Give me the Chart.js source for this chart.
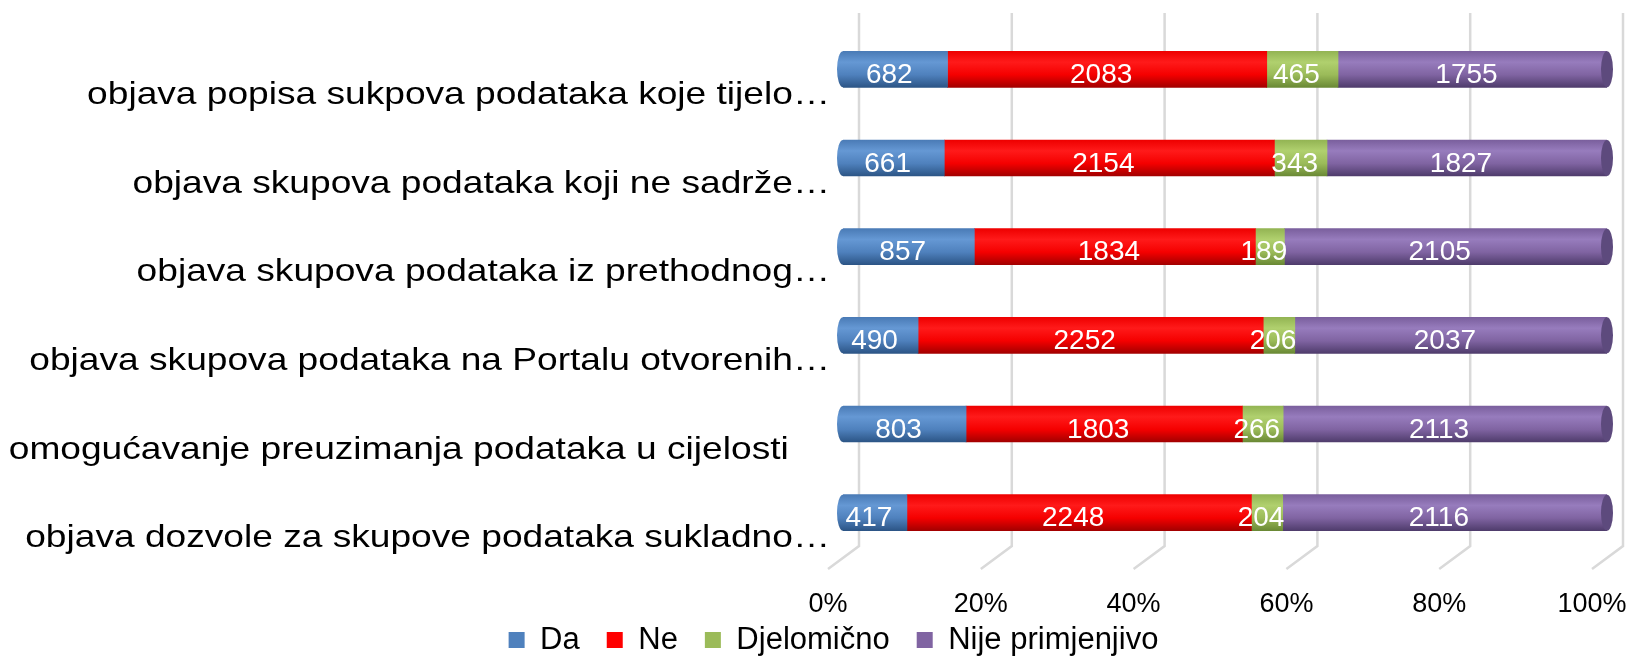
<!DOCTYPE html>
<html>
<head>
<meta charset="utf-8">
<script src="https://cdn.jsdelivr.net/npm/chart.js@4.4.1/dist/chart.umd.min.js"></script>
<style>
  html, body { margin: 0; padding: 0; background: #fff; }
</style>
</head>
<body>
<canvas id="barChart" width="1632" height="657"></canvas>
<script>
const categories = [
  'objava popisa sukpova podataka koje tijelo…',
  'objava skupova podataka koji ne sadrže…',
  'objava skupova podataka iz prethodnog…',
  'objava skupova podataka na Portalu otvorenih…',
  'omogućavanje preuzimanja podataka u cijelosti    ',
  'objava dozvole za skupove podataka sukladno…'
];
const seriesNames = ['Da', 'Ne', 'Djelomično', 'Nije primjenjivo'];
const da = [682, 661, 857, 490, 803, 417];
const ne = [2083, 2154, 1834, 2252, 1803, 2248];
const djelomicno = [465, 343, 189, 206, 266, 204];
const nijePrimjenjivo = [1755, 1827, 2105, 2037, 2113, 2116];
const percentTicks = [0, 20, 40, 60, 80, 100];

const FONT = '"Liberation Sans", Arial, sans-serif';
const BAR_H = 36;
Chart.defaults.font.family = FONT;
Chart.defaults.color = '#000';

const counts = [da, ne, djelomicno, nijePrimjenjivo];
const rowTotals = categories.map((_, i) => counts.reduce((s, arr) => s + arr[i], 0));
const toPct = arr => arr.map((v, i) => v / rowTotals[i] * 100);

const flatColors = ['#4f81bd', '#ff0000', '#9bbb59', '#8064a2'];
const shades = [
  ['#4a7bb6', '#6598d4', '#4f81bd', '#2c5586'],
  ['#ee0000', '#ff1a1a', '#f50000', '#a30000'],
  ['#93b453', '#b0d06e', '#9bbb59', '#6a8935'],
  ['#7a5f9d', '#977cbd', '#8064a2', '#4f3c6c']
];

function cylinder(stops) {
  return (c) => {
    const yScale = c.chart.scales.y;
    if (!yScale || c.dataIndex === undefined) return stops[2];
    const y = yScale.getPixelForValue(c.dataIndex);
    if (!isFinite(y)) return stops[2];
    const g = c.chart.ctx.createLinearGradient(0, y - BAR_H / 2, 0, y + BAR_H / 2);
    g.addColorStop(0, stops[0]);
    g.addColorStop(0.3, stops[1]);
    g.addColorStop(0.65, stops[2]);
    g.addColorStop(1, stops[3]);
    return g;
  };
}

// back wall grid, bar end caps, value labels
const cylinderPlugin = {
  id: 'cylinder',
  afterLayout(chart) {
    const lg = chart.legend;
    lg.left += 30;
    lg.right += 30;
    lg.top = 597.5;
    lg.bottom = chart.height;
  },
  beforeDatasetsDraw(chart) {
    const { ctx, chartArea, scales: { x } } = chart;
    ctx.save();
    ctx.strokeStyle = '#d9d9d9';
    ctx.lineWidth = 2.5;
    x.ticks.forEach(t => {
      const px = x.getPixelForValue(t.value);
      ctx.beginPath();
      ctx.moveTo(px + 16, chartArea.top - 12);
      ctx.lineTo(px + 16, chartArea.bottom - 11);
      ctx.lineTo(px - 15, chartArea.bottom + 12);
      ctx.stroke();
    });
    ctx.restore();
  },
  afterDatasetsDraw(chart) {
    const ctx = chart.ctx;
    ctx.save();
    chart.getDatasetMeta(0).data.forEach(bar => {
      ctx.beginPath();
      ctx.ellipse(bar.base, bar.y, 6, bar.height / 2, 0, Math.PI / 2, Math.PI * 1.5);
      ctx.closePath();
      ctx.fillStyle = bar.options.backgroundColor;
      ctx.fill();
    });
    chart.getDatasetMeta(counts.length - 1).data.forEach(bar => {
      ctx.beginPath();
      ctx.ellipse(bar.x, bar.y, 6, bar.height / 2, 0, 0, Math.PI * 2);
      ctx.fillStyle = '#5d4a7d';
      ctx.fill();
    });
    ctx.font = '28px ' + FONT;
    ctx.fillStyle = '#fff';
    ctx.textAlign = 'center';
    ctx.textBaseline = 'middle';
    counts.forEach((arr, di) => {
      chart.getDatasetMeta(di).data.forEach((bar, i) => {
        ctx.fillText(String(arr[i]), (bar.x + bar.base) / 2 - 6, bar.y + 6);
      });
    });
    ctx.restore();
    // category labels are drawn a bit wider, as in the source picture
    const ax = chart.scales.y.right - 13;
    ctx.save();
    ctx.translate(ax, 0);
    ctx.scale(1.16, 1);
    ctx.translate(-ax, 0);
  },
  afterDraw(chart) {
    chart.ctx.restore();
  }
};

const ctx = document.getElementById('barChart').getContext('2d');

new Chart(ctx, {
  type: 'bar',
  data: {
    labels: categories,
    datasets: seriesNames.map((name, i) => ({
      label: name,
      data: toPct(counts[i]),
      backgroundColor: cylinder(shades[i]),
      borderWidth: 0,
      barThickness: BAR_H
    }))
  },
  options: {
    indexAxis: 'y',
    responsive: false,
    animation: false,
    layout: { padding: { top: 25, right: 25, left: 0, bottom: 0 } },
    plugins: {
      tooltip: { enabled: false },
      legend: {
        position: 'bottom',
        maxHeight: 30,
        labels: {
          boxWidth: 16,
          boxHeight: 16,
          padding: 27,
          font: { size: 31 },
          generateLabels: (chart) =>
            Chart.defaults.plugins.legend.labels.generateLabels(chart).map((item, i) => {
              item.fillStyle = flatColors[i];
              item.strokeStyle = flatColors[i];
              item.lineWidth = 0;
              return item;
            })
        }
      }
    },
    scales: {
      x: {
        stacked: true,
        min: 0,
        max: 100,
        afterBuildTicks: (scale) => { scale.ticks = percentTicks.map(v => ({ value: v })); },
        grid: { display: false, drawTicks: false },
        border: { display: false },
        ticks: {
          font: { size: 27 },
          padding: 31,
          labelOffset: -15,
          maxRotation: 0,
          callback: (value) => `${value}%`
        },
        afterFit: (scale) => {
          scale.height = 70;
          scale.paddingLeft = 0;
          scale.paddingRight = 0;
        }
      },
      y: {
        stacked: true,
        grid: { display: false, drawTicks: false },
        border: { display: false },
        ticks: {
          font: { size: 32 },
          padding: 13,
          labelOffset: 26,
          z: 1,
          autoSkip: false
        },
        afterFit: (scale) => {
          scale.width = 843;
          scale.paddingTop = 0;
          scale.paddingBottom = 0;
        }
      }
    }
  },
  plugins: [cylinderPlugin]
});
</script>
</body>
</html>
